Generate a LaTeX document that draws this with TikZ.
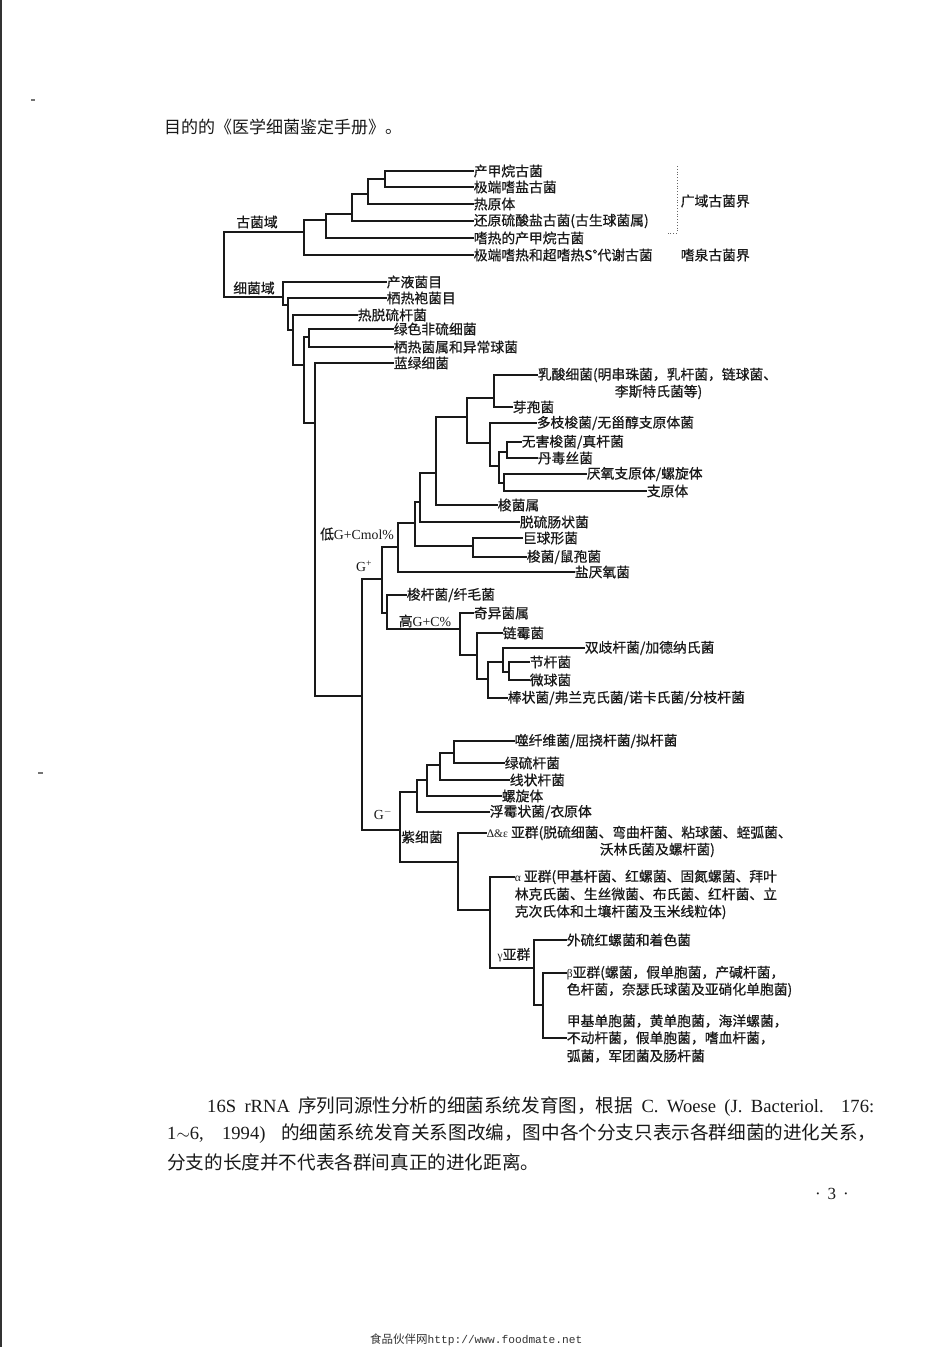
\documentclass[tikz,border=0pt]{standalone}
\usepackage{fontspec}
\setmainfont{Liberation Serif}
\newfontfamily\cjk{Noto Sans CJK SC}
\newfontfamily\cjkh{Noto Sans CJK SC}[FakeBold=0.6]
\newfontfamily\monof{Liberation Mono}
\newcommand\trlab{\cjkh\fontsize{13.8pt}{15pt}\selectfont}
\newcommand\lat{\rmfamily}
\newcommand\smgr[1]{{\rmfamily\fontsize{11.5pt}{12pt}\selectfont #1}}
\newcommand\capfont{\fontsize{18.6pt}{20pt}\selectfont}
\begin{document}
\begin{tikzpicture}[x=1pt,y=-1pt,
  tree/.style={line width=1.15pt, line cap=rect, line join=miter, black!90},
  leaf/.style={anchor=west, inner sep=0.6pt, font=\trlab, text=black!90},
  lab/.style={inner sep=0pt, font=\trlab, text=black!90},
  bodytext/.style={anchor=west, inner sep=0pt, text=black!90}]
\useasboundingbox (0,0) rectangle (952,1347);
\fill[white] (0,0) rectangle (952,1347);
% page edge and specks
\draw[line width=2.2pt, black!80] (1,0) -- (1,1347);
\draw[line width=1.2pt, black!55] (31,100) -- (35,100);
\draw[line width=1.2pt, black!55] (38,773) -- (43,773);

% top text
\node[bodytext, font=\cjk\fontsize{17pt}{18pt}\selectfont] (toptext) at (164,127) {目的的《医学细菌鉴定手册》。};

% ---------------- Archaea ----------------
\coordinate (root) at (224,232);
\coordinate (A5) at (304,232);
\coordinate (A4) at (326,220);
\coordinate (A3) at (352,214);
\coordinate (A2) at (368,194);
\coordinate (A1) at (385,179);
\node[leaf] (a1) at (473,171) {产甲烷古菌};
\node[leaf] (a2) at (473,187) {极端嗜盐古菌};
\node[leaf] (a3) at (473,204) {热原体};
\node[leaf] (a4) at (473,221) {还原硫酸盐古菌(古生球菌属)};
\node[leaf] (a5) at (473,238) {嗜热的产甲烷古菌};
\node[leaf] (a6) at (473,255) {极端嗜热和超嗜热S°代谢古菌};
\draw[tree] (A1) |- (a1.west);
\draw[tree] (A1) |- (a2.west);
\draw[tree] (A2) |- (A1);
\draw[tree] (A2) |- (a3.west);
\draw[tree] (A3) |- (A2);
\draw[tree] (A3) |- (a4.west);
\draw[tree] (A4) |- (A3);
\draw[tree] (A4) |- (a5.west);
\draw[tree] (A5) |- (A4);
\draw[tree] (A5) |- (a6.west);
\draw[tree] (root) |- (A5);
\node[lab] (guj) at (257,222) {古菌域};
% bracket
\coordinate (brt) at (677,166);
\coordinate (brb) at (677,233);
\coordinate (brl) at (668,233);
\draw[black!60, line width=0.8pt, dotted] (brt) -- (brb) -- (brl);
\node[leaf] (guangyu) at (680,201) {广域古菌界};
\node[leaf] (shiquan) at (680,255) {嗜泉古菌界};

% ---------------- Bacteria ----------------
\coordinate (B0) at (283,297);
\coordinate (B1) at (288,305);
\coordinate (B2) at (293,330);
\coordinate (B3) at (304,365);
\coordinate (B4) at (309,337);
\coordinate (B5) at (315,423);
\coordinate (G) at (362,696);
\coordinate (Gp) at (382,579);
\coordinate (L0) at (398,547);
\coordinate (L1) at (415,523);
\coordinate (L2) at (420,502);
\coordinate (L3) at (473,546);
\coordinate (L4) at (436,473);
\coordinate (L5) at (467,417);
\coordinate (L6) at (494,398);
\coordinate (L7) at (490,443);
\coordinate (L8) at (499,466);
\coordinate (L9) at (507,452);
\coordinate (L10) at (504,483);
\coordinate (H0) at (387,613);
\coordinate (H1) at (460,629);
\coordinate (H2) at (477,655);
\coordinate (H3) at (488,679);
\coordinate (H4) at (503,662);
\coordinate (H5) at (509,672);
\coordinate (Gm0) at (400,830);
\coordinate (Gm1) at (417,792);
\coordinate (Gm2) at (427,780);
\coordinate (Gm3) at (440,765);
\coordinate (Gm4) at (454,753);
\coordinate (P0) at (458,862);
\coordinate (P1) at (490,910);
\coordinate (P2) at (534,968);
\coordinate (P3) at (543,1005);

\node[lab] (xij) at (254,288) {细菌域};
\node[leaf] (b1) at (386,282) {产液菌目};
\node[leaf] (b2) at (386,298) {栖热袍菌目};
\node[leaf] (b3) at (357,315) {热脱硫杆菌};
\node[leaf] (b4) at (393,329) {绿色非硫细菌};
\node[leaf] (b5) at (393,347) {栖热菌属和异常球菌};
\node[leaf] (b6) at (393,363) {蓝绿细菌};

\draw[tree] (root) |- (B0);
\draw[tree] (B0) |- (b1.west);
\draw[tree] (B0) |- (B1);
\draw[tree] (B1) |- (b2.west);
\draw[tree] (B1) |- (B2);
\draw[tree] (B2) |- (b3.west);
\draw[tree] (B2) |- (B3);
\draw[tree] (B3) |- (B4);
\draw[tree] (B4) |- (b4.west);
\draw[tree] (B4) |- (b5.west);
\draw[tree] (B3) |- (B5);
\draw[tree] (B5) |- (b6.west);
\draw[tree] (B5) |- (G);

% G+ labels
\node[lab] (gplus) at (364,566) {\lat G\textsuperscript{+}};
\node[lab] (lowgc) at (357,534) {低\lat G+Cmol\%};
\node[lab] (highgc) at (425,621) {高\lat G+C\%};

% low GC leaves
\node[leaf] (c1a) at (537,375) {乳酸细菌(明串珠菌，乳杆菌，链球菌、};
\node[leaf] (c1b) at (614,392) {李斯特氏菌等)};
\node[leaf] (c2) at (512,407) {芽孢菌};
\node[leaf] (c3) at (536,423) {多枝梭菌/无甾醇支原体菌};
\node[leaf] (c4) at (521,442) {无害梭菌/真杆菌};
\node[leaf] (c5) at (537,458) {丹毒丝菌};
\node[leaf] (c6) at (586,474) {厌氧支原体/螺旋体};
\node[leaf] (c7) at (646,491) {支原体};
\node[leaf] (c8) at (497,505) {梭菌属};
\node[leaf] (c9) at (519,522) {脱硫肠状菌};
\node[leaf] (c10) at (522,538) {巨球形菌};
\node[leaf] (c11) at (526,557) {梭菌/鼠孢菌};
\node[leaf] (c12) at (574,572) {盐厌氧菌};

\draw[tree] (G) |- (Gp);
\draw[tree] (Gp) |- (L0);
\draw[tree] (L0) |- (L1);
\draw[tree] (L0) |- (c12.west);
\draw[tree] (L1) |- (L2);
\draw[tree] (L1) |- (L3);
\draw[tree] (L3) |- (c10.west);
\draw[tree] (L3) |- (c11.west);
\draw[tree] (L2) |- (L4);
\draw[tree] (L2) |- (c9.west);
\draw[tree] (L4) |- (L5);
\draw[tree] (L4) |- (c8.west);
\draw[tree] (L5) |- (L6);
\draw[tree] (L5) |- (L7);
\draw[tree] (L6) |- (c1a.west);
\draw[tree] (L6) |- (c2.west);
\draw[tree] (L7) |- (c3.west);
\draw[tree] (L7) |- (L8);
\draw[tree] (L8) |- (L9);
\draw[tree] (L8) |- (L10);
\draw[tree] (L9) |- (c4.west);
\draw[tree] (L9) |- (c5.west);
\draw[tree] (L10) |- (c6.west);
\draw[tree] (L10) |- (c7.west);

% high GC leaves
\node[leaf] (d1) at (406,595) {梭杆菌/纤毛菌};
\node[leaf] (d2) at (473,613) {奇异菌属};
\node[leaf] (d3) at (502,633) {链霉菌};
\node[leaf] (d4) at (584,648) {双歧杆菌/加德纳氏菌};
\node[leaf] (d5) at (529,662) {节杆菌};
\node[leaf] (d6) at (529,680) {微球菌};
\node[leaf] (d7) at (507,698) {棒状菌/弗兰克氏菌/诺卡氏菌/分枝杆菌};

\draw[tree] (Gp) |- (H0);
\draw[tree] (H0) |- (d1.west);
\draw[tree] (H0) |- (H1);
\draw[tree] (H1) |- (d2.west);
\draw[tree] (H1) |- (H2);
\draw[tree] (H2) |- (d3.west);
\draw[tree] (H2) |- (H3);
\draw[tree] (H3) |- (H4);
\draw[tree] (H3) |- (d7.west);
\draw[tree] (H4) |- (d4.west);
\draw[tree] (H4) |- (H5);
\draw[tree] (H5) |- (d5.west);
\draw[tree] (H5) |- (d6.west);

% G- side
\node[lab] (gminus) at (383,814) {\lat G\textsuperscript{$-$}};
\node[leaf] (e1) at (514,741) {噬纤维菌/屈挠杆菌/拟杆菌};
\node[leaf] (e2) at (504,763) {绿硫杆菌};
\node[leaf] (e3) at (509,780) {线状杆菌};
\node[leaf] (e4) at (501,796) {螺旋体};
\node[leaf] (e5) at (489,812) {浮霉状菌/衣原体};

\draw[tree] (G) |- (Gm0);
\draw[tree] (Gm0) |- (Gm1);
\draw[tree] (Gm1) |- (Gm2);
\draw[tree] (Gm1) |- (e5.west);
\draw[tree] (Gm2) |- (Gm3);
\draw[tree] (Gm2) |- (e4.west);
\draw[tree] (Gm3) |- (Gm4);
\draw[tree] (Gm3) |- (e3.west);
\draw[tree] (Gm4) |- (e1.west);
\draw[tree] (Gm4) |- (e2.west);

% purple bacteria
\node[lab] (zixi) at (422,837) {紫细菌};
\node[leaf] (f1a) at (486,833) {\smgr{Δ\&ε}\ 亚群(脱硫细菌、弯曲杆菌、粘球菌、蛭弧菌、};
\node[leaf] (f1b) at (599,850) {沃林氏菌及螺杆菌)};
\node[leaf] (f2a) at (514,877) {\smgr{α}\ 亚群(甲基杆菌、红螺菌、固氮螺菌、拜叶};
\node[leaf] (f2b) at (514,894) {林克氏菌、生丝微菌、布氏菌、红杆菌、立};
\node[leaf] (f2c) at (514,912) {克次氏体和土壤杆菌及玉米线粒体)};
\node[lab] (gamma) at (514,955) {\smgr{γ}亚群};
\node[leaf] (f3) at (566,940) {外硫红螺菌和着色菌};
\node[leaf] (f4a) at (566,973) {\smgr{β}亚群(螺菌，假单胞菌，产碱杆菌，};
\node[leaf] (f4b) at (566,990) {色杆菌，奈瑟氏球菌及亚硝化单胞菌)};
\node[leaf] (f5a) at (566,1021) {甲基单胞菌，黄单胞菌，海洋螺菌，};
\node[leaf] (f5b) at (566,1038) {不动杆菌，假单胞菌，嗜血杆菌，};
\node[leaf] (f5c) at (566,1056) {弧菌，军团菌及肠杆菌};

\draw[tree] (Gm0) |- (P0);
\draw[tree] (P0) |- (f1a.west);
\draw[tree] (P0) |- (P1);
\draw[tree] (P1) |- (f2a.west);
\draw[tree] (P1) |- (P2);
\draw[tree] (P2) |- (f3.west);
\draw[tree] (P2) |- (P3);
\draw[tree] (P3) |- (f4a.west);
\draw[tree] (P3) |- (f5b.west);

% caption
\node[bodytext, font=\capfont] (cap1) at (207,1107) {\makebox[667pt][s]{16S rRNA {\cjk 序列同源性分析的细菌系统发育图，根据} C. Woese (J. Bacteriol. 176:}};
\node[bodytext, font=\capfont] (cap2) at (167,1134) {\makebox[709pt][s]{1$\sim$6, 1994) {\cjk 的细菌系统发育关系图改编，图中各个分支只表示各群细菌的进化关系，}}};
\node[bodytext, font=\capfont] (cap3) at (167,1162) {{\cjk 分支的长度并不代表各群间真正的进化距离。}};

% page number
\node[inner sep=0pt, font=\fontsize{17pt}{18pt}\selectfont, text=black!90] (pnum) at (832,1194) {·\hspace{7pt}3\hspace{7pt}·};

% footer
\node[bodytext, text=black!80] (footer) at (370,1340) {{\cjk\fontsize{11.5pt}{12pt}\selectfont 食品伙伴网}{\monof\fontsize{11.2pt}{12pt}\selectfont http://www.foodmate.net}};
\end{tikzpicture}
\end{document}
